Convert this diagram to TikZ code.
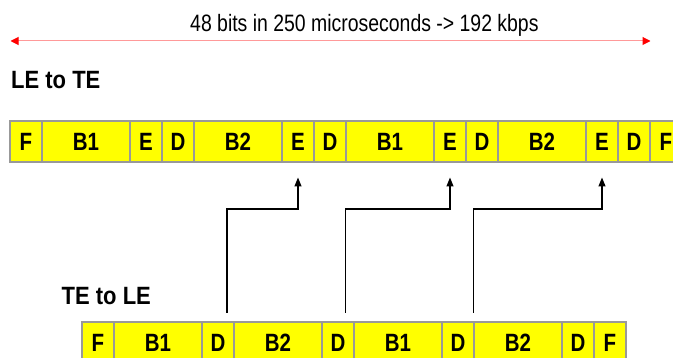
\documentclass[tikz,border=0pt]{standalone}
\usepackage{fontspec}
\setmainfont{Liberation Sans}[FakeStretch=0.82]
\newfontfamily\headfont{Liberation Sans}[FakeStretch=0.88]
\usetikzlibrary{arrows.meta, positioning}
\definecolor{cellyellow}{rgb}{1,1,0}
\definecolor{cellgray}{rgb}{0.6,0.6,0.6}
\definecolor{spanred}{rgb}{1,0.6,0.6}

\tikzset{
	cell/.style = {draw=cellgray, fill=cellyellow, line width=1.4pt, minimum height=41pt, inner sep=0pt, outer sep=0pt, font=\fontsize{25}{25}\selectfont\bfseries},
	slot/.style = {cell, minimum width=32pt},
	field/.style = {cell, minimum width=88pt},
	heading/.style = {inner sep=0pt, font=\headfont\fontsize{25}{25}\selectfont\bfseries},
	link/.style = {-{Triangle[length=9pt,width=7pt]}, line width=1.2pt, shorten >=15.5pt},
	spanline/.style = {{Triangle[length=8pt,width=8pt,color=red]}-{Triangle[length=8pt,width=8pt,color=red]}, draw=spanred, line width=1pt}
}

\begin{document}
\begin{tikzpicture}[x=1pt, y=-1pt]
		\useasboundingbox (0,0) rectangle (673,358);
		\clip (0,0) rectangle (673,358);

		\node(rate)  [anchor=base west, inner sep=0pt, font=\fontsize{23.7}{24}\selectfont] at (190,31.7)  {48 bits in 250 microseconds -> 192 kbps};
		\coordinate(spanL) at (10.5,41);
		\coordinate(spanR) at (650.5,41);
		\draw[spanline] (spanL) -- (spanR);

		\node(le2te)  [heading, anchor=base west] at (11,88.3)  {LE to TE};
		\node(te2le)  [heading, anchor=base west] at (61.5,304.3)  {TE to LE};

		% LE to TE frame
		\node(t1)  [slot, anchor=west] at (10,141.5)  {F};
		\node(t2)  [field, right=0pt of t1]  {B1};
		\node(t3)  [slot, right=0pt of t2]  {E};
		\node(t4)  [slot, right=0pt of t3]  {D};
		\node(t5)  [field, right=0pt of t4]  {B2};
		\node(t6)  [slot, right=0pt of t5]  {E};
		\node(t7)  [slot, right=0pt of t6]  {D};
		\node(t8)  [field, right=0pt of t7]  {B1};
		\node(t9)  [slot, right=0pt of t8]  {E};
		\node(t10)  [slot, right=0pt of t9]  {D};
		\node(t11)  [field, right=0pt of t10]  {B2};
		\node(t12)  [slot, right=0pt of t11]  {E};
		\node(t13)  [slot, right=0pt of t12]  {D};
		\node(t14)  [slot, right=0pt of t13]  {F};

		% TE to LE frame
		\node(b1)  [slot, anchor=north west] at (82,322)  {F};
		\node(b2)  [field, right=0pt of b1]  {B1};
		\node(b3)  [slot, right=0pt of b2]  {D};
		\node(b4)  [field, right=0pt of b3]  {B2};
		\node(b5)  [slot, right=0pt of b4]  {D};
		\node(b6)  [field, right=0pt of b5]  {B1};
		\node(b7)  [slot, right=0pt of b6]  {D};
		\node(b8)  [field, right=0pt of b7]  {B2};
		\node(b9)  [slot, right=0pt of b8]  {D};
		\node(b10)  [slot, right=0pt of b9]  {F};

		\draw[link] ([xshift=9pt,yshift=9pt]b3.north) -- ++(0,-104) -| (t6.south);
		\draw[link] ([xshift=7.5pt,yshift=9pt]b5.north) -- ++(0,-104) -| (t9.south);
		\draw[link] ([xshift=15.5pt,yshift=9pt]b7.north) -- ++(0,-104) -| (t12.south);
\end{tikzpicture}
\end{document}
